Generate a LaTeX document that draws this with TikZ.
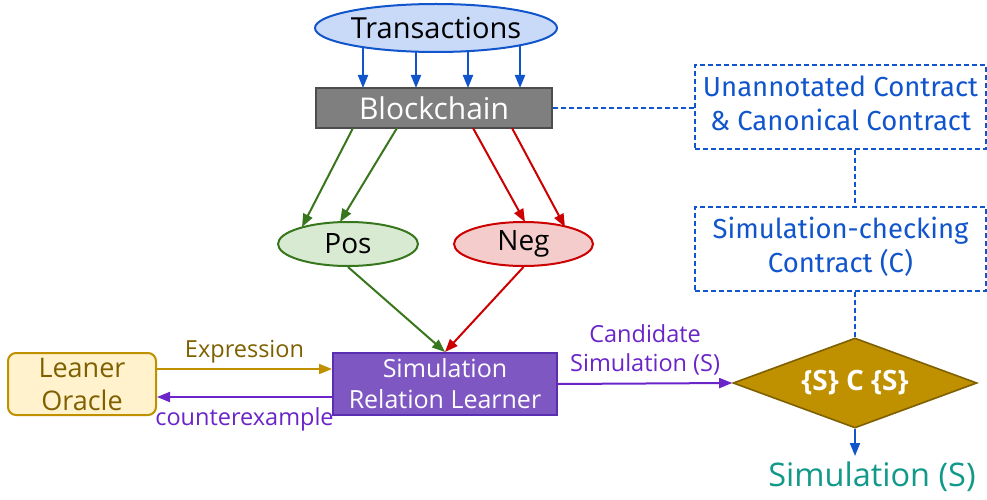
\documentclass[tikz,border=0pt]{standalone}
\usepackage{fontspec}
\setmainfont{Open Sans}
\newfontfamily\boxfont{Fira Sans}
\usetikzlibrary{shapes.geometric,arrows.meta}
\definecolor{cblue}{HTML}{1155CC}
\definecolor{clblue}{HTML}{C9DAF8}
\definecolor{cgreen}{HTML}{38761D}
\definecolor{clgreen}{HTML}{D9EAD3}
\definecolor{cred}{HTML}{CC0000}
\definecolor{clred}{HTML}{F4CCCC}
\definecolor{cgray}{HTML}{7F7F7F}
\definecolor{cdgray}{HTML}{4D4D4D}
\definecolor{cpurple}{HTML}{7E57C2}
\definecolor{cdpurple}{HTML}{5B2DB3}
\definecolor{cptext}{HTML}{6A24C8}
\definecolor{cgold}{HTML}{BF9000}
\definecolor{cdgold}{HTML}{7F6000}
\definecolor{clgold}{HTML}{FFF2CC}
\definecolor{cteal}{HTML}{11998A}
\tikzset{
  x=1pt, y=-1pt,
  arr/.style={line width=2pt, -{Triangle[length=13pt,width=10pt]}},
  dsh/.style={cblue, line width=1.3pt, dash pattern=on 5pt off 3pt},
  dbox/.style={draw=cblue, line width=1.3pt, dash pattern=on 5pt off 3pt, text=cblue, align=center, minimum width=291pt, minimum height=84pt, inner sep=0pt, font=\boxfont\fontsize{27.5}{34}\selectfont},
  ell/.style={ellipse, line width=2pt, inner sep=0pt},
  lbl/.style={font=\fontsize{23.5}{28}\selectfont, inner sep=0pt}
}
\begin{document}
\begin{tikzpicture}
\useasboundingbox (0,0) rectangle (987,500);
% nodes
\node[ell, draw=cblue, fill=clblue, minimum width=242pt, minimum height=48pt, font=\fontsize{29}{32}\selectfont] (trans) at (436,28) {Transactions};
\node[draw=cdgray, fill=cgray, line width=2pt, minimum width=236pt, minimum height=40pt, inner sep=0pt, text=white, font=\fontsize{30}{32}\selectfont] (blk) at (434,108) {Blockchain};
\node[dbox] (una) at (840.5,107) {\raisebox{-3pt}{\begin{tabular}{@{}c@{}}Unannotated Contract\\\& Canonical Contract\end{tabular}}};
\node[dbox] (sim) at (840.5,249) {\raisebox{-3pt}{\begin{tabular}{@{}c@{}}Simulation-checking\\Contract (C)\end{tabular}}};
\node[diamond, shape aspect=2.7, draw=cdgold, fill=cgold, line width=1.6pt, minimum width=244pt, minimum height=90pt, inner sep=0pt, text=white, font=\bfseries\fontsize{28}{30}\selectfont] (dia) at (855,383) {\{S\} C \{S\}};
\node[ell, draw=cgreen, fill=clgreen, minimum width=140pt, minimum height=44pt, font=\fontsize{28}{30}\selectfont] (pos) at (348,244) {Pos};
\node[ell, draw=cred, fill=clred, minimum width=139pt, minimum height=44pt, font=\fontsize{28}{30}\selectfont] (neg) at (523.5,244) {Neg};
\node[draw=cdpurple, fill=cpurple, line width=2pt, minimum width=224pt, minimum height=62pt, inner sep=0pt, text=white, align=center, font=\fontsize{25}{31}\selectfont] (lrn) at (445,384) {Simulation\\Relation Learner};
\node[draw=cgold, fill=clgold, rounded corners=8pt, line width=2pt, minimum width=148pt, minimum height=62pt, inner sep=0pt, text=cdgold, align=center, font=\fontsize{27}{33}\selectfont] (orc) at (82,384) {Leaner\\Oracle};
\node[text=cteal, inner sep=0pt, font=\fontsize{32.5}{36}\selectfont] (out) at (872,477) {Simulation (S)};
\coordinate (oute) at (855,456);
% transactions -> blockchain
\foreach \dx/\dy in {-73/19, -20/23, 32/23, 84/17}
  \draw[arr, cblue] ([shift={(\dx,\dy)}]trans.center) -- ([shift={(\dx+2,-20)}]blk.center);
% blockchain -> pos / neg
\draw[arr, cgreen] ([shift={(-81,20)}]blk.center) -- ([shift={(-46,-17)}]pos.center);
\draw[arr, cgreen] ([shift={(-37,20)}]blk.center) -- ([shift={(-8,-22)}]pos.center);
\draw[arr, cred] ([shift={(39,20)}]blk.center) -- ([shift={(1.5,-22)}]neg.center);
\draw[arr, cred] ([shift={(78,20)}]blk.center) -- ([shift={(41.5,-17)}]neg.center);
% pos / neg -> learner
\draw[arr, cgreen] (pos.south) -- (lrn.north);
\draw[arr, cred] (neg.south) -- (lrn.north);
% oracle <-> learner
\draw[arr, cgold] ([yshift=15pt]orc.east) -- node[lbl, text=cdgold, above=5pt] {Expression} ([yshift=15pt]lrn.west);
\draw[arr, cptext] ([yshift=-13pt]lrn.west) -- node[lbl, text=cptext, below=10pt] {counterexample} ([yshift=-13pt]orc.east);
% learner -> diamond
\draw[arr, cptext] (lrn.east) -- node[lbl, text=cptext, above=7pt, align=center, font=\fontsize{23.5}{29}\selectfont] {Candidate\\Simulation (S)} (dia.west);
% dashed links
\draw[dsh] (blk.east) -- (blk.east -| una.west);
\draw[dsh] (una.south -| dia.north) -- (sim.north -| dia.north);
\draw[dsh] (sim.south -| dia.north) -- (dia.north);
% diamond -> output
\draw[arr, cblue] (dia.south) -- (oute);
\end{tikzpicture}
\end{document}
